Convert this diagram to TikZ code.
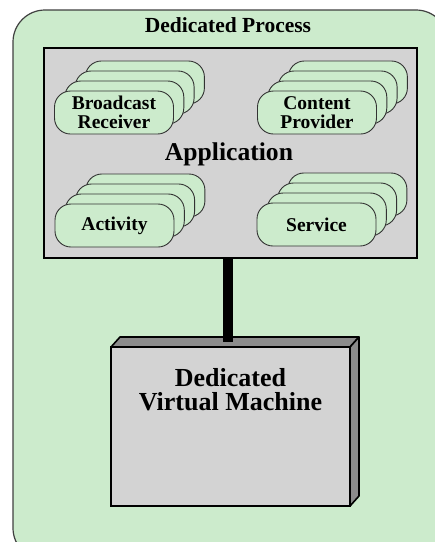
\documentclass[tikz,border=0pt]{standalone}
\usepackage{fontspec}
\setmainfont{Liberation Serif}
\usetikzlibrary{calc}
\definecolor{procgreen}{RGB}{204,235,204}
\definecolor{boxgray}{RGB}{211,211,211}
\definecolor{sidegray}{RGB}{140,140,140}

% a stack of four component cards: name, x, y of the front card, label
\newcommand\cardstack[4]{%
  \foreach \k in {3,2,1}{
    \node[card] (#1-\k) at ({#2+10.3*\k},{#3-10*\k}) {};
  }
  \node[card] (#1) at (#2,#3) {#4};
}

\begin{document}
\begin{tikzpicture}[x=1pt,y=-1pt,
  process/.style={draw=black!75, line width=1.2pt, fill=procgreen, rounded corners=32pt,
    minimum width=435pt, minimum height=550pt, inner sep=0pt, outer sep=0pt},
  appbox/.style={draw=black, line width=2pt, fill=boxgray, minimum width=373pt,
    minimum height=210pt, inner sep=0pt, outer sep=0pt},
  card/.style={draw=black!80, line width=0.9pt, fill=procgreen, rounded corners=16pt,
    minimum width=119pt, minimum height=43pt, inner sep=0pt, outer sep=0pt,
    align=center, font=\fontsize{19.5}{19}\selectfont\bfseries},
  vmfront/.style={draw=black, line width=1.6pt, fill=boxgray, minimum width=239pt,
    minimum height=159pt, inner sep=0pt, outer sep=0pt},
  vmface/.style={draw=black, line width=1.6pt, fill=sidegray, line join=round},
  link/.style={line width=10pt, draw=black},
  title/.style={font=\fontsize{21.5}{22}\selectfont\bfseries, inner sep=0pt},
  bigtitle/.style={font=\fontsize{25.6}{26}\selectfont\bfseries, inner sep=0pt, align=center},
  vmtitle/.style={font=\fontsize{26}{24}\selectfont\bfseries, inner sep=0pt, align=center}]

\useasboundingbox (0,0) rectangle (435,542);
\clip (0,0) rectangle (435,542);

% dedicated process container
\node[process] (process) at (230.5,285) {};
\node[title, anchor=base] (ptitle) at (228,32) {Dedicated Process};

% application with its four kinds of components
\node[appbox] (app) at (230.5,153) {};
\node[bigtitle] (apptitle) at (229,154) {Application};

\cardstack{receiver}{114}{112.5}{Broadcast\\Receiver}
\cardstack{provider}{317}{112.5}{Content\\Provider}
\cardstack{activity}{114.5}{225.5}{Activity}
\cardstack{service}{316.5}{224.5}{Service}

% dedicated virtual machine drawn as a block
\node[vmfront] (vm) at (230.5,426.5) {};
\coordinate (vmtopback) at ($(vm.north west)+(9,-10)$);
\coordinate (vmtopright) at ($(vm.north east)+(9,-10)$);
\coordinate (vmbackbottom) at ($(vm.south east)+(9,-10)$);
\draw[vmface] (vm.north west) -- (vmtopback) -- (vmtopright) -- (vm.north east) -- cycle;
\draw[vmface] (vm.north east) -- (vmtopright) -- (vmbackbottom) -- (vm.south east) -- cycle;
\node[vmtitle] (vmtitle) at (230.5,390) {Dedicated\\Virtual Machine};

% link between application and virtual machine
\coordinate (vmjoin) at (228,342);
\draw[link] (app.south -| vmjoin) -- (vmjoin);

\end{tikzpicture}
\end{document}
